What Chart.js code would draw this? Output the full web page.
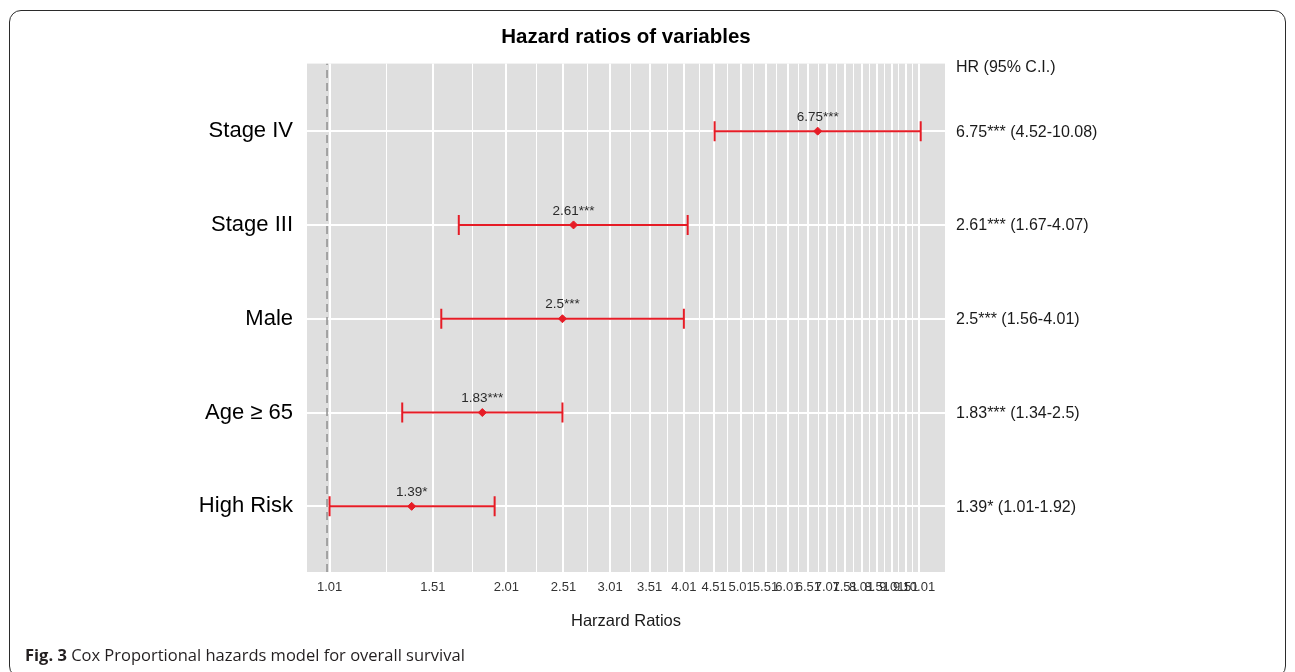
<!DOCTYPE html>
<html>
<head>
<meta charset="utf-8">
<script src="https://cdn.jsdelivr.net/npm/chart.js@4.4.0/dist/chart.umd.min.js"></script>
<style>
  body { margin: 0; background: #fff; width: 1295px; height: 672px; overflow: hidden; position: relative; }
  #wrap { position: absolute; left: 0; top: 0; width: 1295px; height: 672px; }
  .frame { position: absolute; left: 9px; top: 10px; width: 1277px; height: 668px; border: 1.5px solid #2b2b2b; border-radius: 12px; box-sizing: border-box; pointer-events: none; }
  .caption { position: absolute; left: 25px; top: 643px; font-family: 'Open Sans', sans-serif; font-size: 16.5px; color: #231f20; white-space: nowrap; }
</style>
</head>
<body>
<div id="wrap"><canvas id="forest" width="1295" height="672"></canvas></div>
<div class="frame"></div>
<div class="caption"><b>Fig. 3</b> Cox Proportional hazards model for overall survival</div>
<script>
// rows, top to bottom
const categories = ['Stage IV', 'Stage III', 'Male', 'Age ≥ 65', 'High Risk'];
const rowPos = [5, 4, 3, 2, 1];
const hazardRatios = [6.75, 2.61, 2.5, 1.83, 1.39];
const lowerCI = [4.52, 1.67, 1.56, 1.34, 1.01];
const upperCI = [10.08, 4.07, 4.01, 2.5, 1.92];
const stars = ['***', '***', '***', '***', '*'];

const xTickLabels = ['1.01', '1.51', '2.01', '2.51', '3.01', '3.51', '4.01', '4.51', '5.01', '5.51',
  '6.01', '6.51', '7.01', '7.51', '8.01', '8.51', '9.01', '9.51', '10.01'];
const xMinorTicks = [1.26, 1.76, 2.26, 2.76, 3.26, 3.76, 4.26, 4.76, 5.26, 5.76,
  6.26, 6.76, 7.26, 7.76, 8.26, 8.76, 9.26, 9.76];

const red = 'rgb(230,28,38)';
const xMajor = xTickLabels.map(Number);
const allTicks = [...xMajor, ...xMinorTicks].sort((a, b) => a - b);

Chart.defaults.font.family = "'Liberation Sans', Arial, sans-serif";

const pointSet = {
  type: 'scatter',
  data: hazardRatios.map((v, i) => ({ x: v, y: rowPos[i] })),
  pointStyle: 'rectRot',
  pointRadius: 4,
  backgroundColor: red,
  borderColor: red,
  borderWidth: 1
};

const errorSets = categories.map((c, i) => ({
  type: 'line',
  data: [{ x: lowerCI[i], y: rowPos[i] }, { x: upperCI[i], y: rowPos[i] }],
  borderColor: red,
  borderWidth: 2,
  pointStyle: 'line',
  pointRotation: 90,
  pointRadius: 10,
  pointBorderColor: red,
  pointBorderWidth: 2
}));

const refLine = {
  type: 'line',
  data: [{ x: 1, y: 0.3 }, { x: 1, y: 5.72 }],
  borderColor: '#8f8f8f',
  borderWidth: 1.5,
  borderDash: [8, 5],
  pointRadius: 0
};

const panelBg = {
  id: 'panelBg',
  beforeDraw(chart) {
    const { ctx, chartArea: a } = chart;
    ctx.save();
    ctx.fillStyle = '#dfdfdf';
    ctx.fillRect(a.left, a.top, a.right - a.left, a.bottom - a.top);
    ctx.restore();
  }
};

const textLayer = {
  id: 'textLayer',
  afterDatasetsDraw(chart) {
    const { ctx, chartArea: a } = chart;
    const xs = chart.scales.x, ys = chart.scales.y;
    ctx.save();
    // labels above the points
    ctx.font = "13.5px 'Liberation Sans', Arial, sans-serif";
    ctx.fillStyle = '#2a2a2a';
    ctx.textAlign = 'center';
    ctx.textBaseline = 'middle';
    hazardRatios.forEach((v, i) => {
      ctx.fillText(v + stars[i], xs.getPixelForValue(v), ys.getPixelForValue(rowPos[i]) - 14);
    });
    // right hand column
    ctx.font = "16px 'Liberation Sans', Arial, sans-serif";
    ctx.fillStyle = '#1a1a1a';
    ctx.textAlign = 'left';
    ctx.fillText('HR (95% C.I.)', a.right + 11, a.top + 4);
    hazardRatios.forEach((v, i) => {
      ctx.fillText(v + stars[i] + ' (' + lowerCI[i] + '-' + upperCI[i] + ')', a.right + 11, ys.getPixelForValue(rowPos[i]) + 1);
    });
    ctx.restore();
  }
};

new Chart(document.getElementById('forest'), {
  data: { datasets: [pointSet, ...errorSets, refLine] },
  options: {
    responsive: false,
    animation: false,
    layout: { padding: { left: 0, right: 350, top: 0, bottom: 0 } },
    plugins: {
      legend: { display: false },
      tooltip: { enabled: false },
      title: {
        display: true,
        fullSize: false,
        text: 'Hazard ratios of variables',
        color: '#000',
        font: { size: 20.5, weight: 'bold' },
        padding: { top: 25, bottom: 14 }
      }
    },
    scales: {
      x: {
        type: 'logarithmic',
        position: 'bottom',
        min: 0.925,
        max: 11.08,
        afterBuildTicks: (s) => { s.ticks = allTicks.map(v => ({ value: v })); },
        afterFit: (s) => { s.height = 100; },
        ticks: {
          autoSkip: false,
          maxRotation: 0,
          minRotation: 0,
          padding: 8,
          color: '#333',
          font: { size: 13 },
          callback: (v) => {
            const k = xMajor.indexOf(v);
            return k >= 0 ? xTickLabels[k] : '';
          }
        },
        grid: {
          color: '#fff',
          drawTicks: false,
          lineWidth: (c) => (c.tick && xMajor.includes(c.tick.value) ? 2 : 1)
        },
        border: { display: false },
        title: {
          display: true,
          text: 'Harzard Ratios',
          color: '#1a1a1a',
          font: { size: 16.5 },
          padding: { top: 0, bottom: 41 }
        }
      },
      y: {
        type: 'linear',
        min: 0.3,
        max: 5.72,
        afterBuildTicks: (s) => { s.ticks = rowPos.map(v => ({ value: v })); },
        afterFit: (s) => { s.width = 307; },
        ticks: {
          color: '#000',
          padding: 14,
          font: { size: 22 },
          callback: (v) => categories[rowPos.indexOf(v)]
        },
        grid: { color: '#fff', lineWidth: 2, drawTicks: false },
        border: { display: false }
      }
    }
  },
  plugins: [panelBg, textLayer]
});
</script>
</body>
</html>
